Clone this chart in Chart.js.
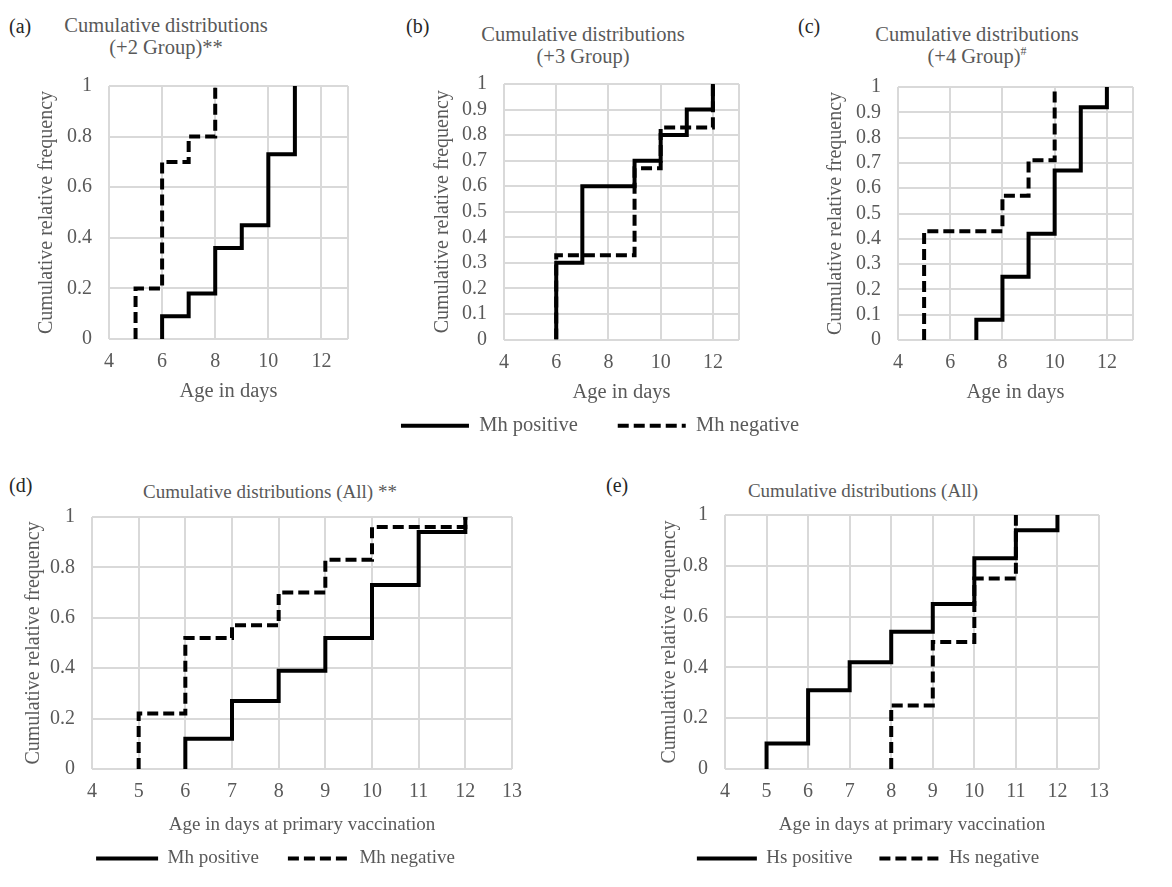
<!DOCTYPE html>
<html lang="en">
<head>
    <meta charset="UTF-8">
    <title>Cumulative distributions</title>
    <script src="https://cdn.jsdelivr.net/npm/chart.js"></script>
    <style>
        body { margin: 0; background: #fff; }
        #page { position: relative; width: 1172px; height: 887px; overflow: hidden; font-family: 'Liberation Serif', 'Times New Roman', serif; }
        canvas { position: absolute; }
        .lbl { position: absolute; font-size: 20px; color: #262626; line-height: 22px; }
        .ttl { position: absolute; width: 400px; text-align: center; font-size: 20.5px; color: #595959; line-height: 22px; }
        .ttl.low { font-size: 19px; }
        .ttl sup { font-size: 12px; line-height: 0; }
    </style>
</head>
<body>
<div id="page">
    <div class="lbl" style="left:9px; top:15px;">(a)</div>
    <div class="ttl" style="left:-34px; top:14px;">Cumulative distributions<br>(+2 Group)**</div>
    <div class="lbl" style="left:406px; top:15px;">(b)</div>
    <div class="ttl" style="left:383px; top:23px;">Cumulative distributions<br>(+3 Group)</div>
    <div class="lbl" style="left:798px; top:15px;">(c)</div>
    <div class="ttl" style="left:777px; top:23px;">Cumulative distributions<br>(+4 Group)<sup>#</sup></div>
    <div class="lbl" style="left:9px; top:474px;">(d)</div>
    <div class="ttl low" style="left:70px; top:481px;">Cumulative distributions (All) **</div>
    <div class="lbl" style="left:606px; top:474px;">(e)</div>
    <div class="ttl low" style="left:663px; top:480px;">Cumulative distributions (All)</div>

    <canvas id="chartA"></canvas>
    <canvas id="chartB"></canvas>
    <canvas id="chartC"></canvas>
    <canvas id="chartD"></canvas>
    <canvas id="chartE"></canvas>
</div>

<script>
    // (a) +2 Group
    const agesPosA = [6, 7, 8, 9, 10, 11];
    const cumPosA = [0.09, 0.18, 0.36, 0.45, 0.73, 1];
    const agesNegA = [5, 6, 7, 8];
    const cumNegA = [0.2, 0.7, 0.8, 1];

    // (b) +3 Group
    const agesPosB = [6, 7, 9, 10, 11, 12];
    const cumPosB = [0.3, 0.6, 0.7, 0.8, 0.9, 1];
    const agesNegB = [6, 9, 10, 12];
    const cumNegB = [0.33, 0.67, 0.83, 1];

    // (c) +4 Group
    const agesPosC = [7, 8, 9, 10, 11, 12];
    const cumPosC = [0.08, 0.25, 0.42, 0.67, 0.92, 1];
    const agesNegC = [5, 8, 9, 10];
    const cumNegC = [0.43, 0.57, 0.71, 1];

    // (d) All, Mh
    const agesPosD = [6, 7, 8, 9, 10, 11, 12];
    const cumPosD = [0.12, 0.27, 0.39, 0.52, 0.73, 0.94, 1];
    const agesNegD = [5, 6, 7, 8, 9, 10, 12];
    const cumNegD = [0.22, 0.52, 0.57, 0.70, 0.83, 0.96, 1];

    // (e) All, Hs
    const agesPosE = [5, 6, 7, 8, 9, 10, 11, 12];
    const cumPosE = [0.10, 0.31, 0.42, 0.54, 0.65, 0.83, 0.94, 1];
    const agesNegE = [8, 9, 10, 11];
    const cumNegE = [0.25, 0.5, 0.75, 1];

    // axis ticks
    const xTicksTop = [4, 6, 8, 10, 12];
    const xTicksBottom = [4, 5, 6, 7, 8, 9, 10, 11, 12, 13];
    const X_MIN = 4, X_MAX = 13;

    const GREY = '#595959';
    const GRID = '#d9d9d9';
    const FONT = "'Liberation Serif', 'Times New Roman', serif";

    // cumulative curve starts at 0 on the first age
    function steps(ages, cum) {
        return [{ x: ages[0], y: 0 }].concat(ages.map((a, i) => ({ x: a, y: cum[i] })));
    }

    // legend samples: take dash and width from the dataset line
    function lineLabels(chart) {
        return Chart.defaults.plugins.legend.labels.generateLabels(chart).map(item => {
            const ds = chart.data.datasets[item.datasetIndex];
            item.lineDash = ds.borderDash || [];
            item.lineWidth = ds.borderWidth;
            item.strokeStyle = ds.borderColor;
            item.fillStyle = ds.borderColor;
            return item;
        });
    }

    function makeChart(id, box, cfg) {
        const cv = document.getElementById(id);
        cv.style.left = box.left + 'px';
        cv.style.top = box.top + 'px';
        cv.style.width = box.width + 'px';
        cv.style.height = box.height + 'px';
        cv.width = box.width;
        cv.height = box.height;

        const scales = {
            x: {
                type: 'linear',
                min: X_MIN,
                max: X_MAX,
                ticks: {
                    stepSize: 1,
                    autoSkip: false,
                    maxRotation: 0,
                    padding: 11,
                    color: GREY,
                    font: { family: FONT, size: 20 },
                    callback: v => cfg.xTicks.includes(v) ? v : ''
                },
                grid: {
                    drawTicks: false,
                    lineWidth: 2,
                    color: c => (cfg.xTicks.includes(c.tick.value) || c.tick.value === X_MAX) ? GRID : 'rgba(0,0,0,0)'
                },
                border: { display: false },
                title: {
                    display: true,
                    text: cfg.xTitle,
                    color: GREY,
                    font: { family: FONT, size: cfg.textSize },
                    padding: { top: 0, bottom: cfg.xTitlePad }
                },
                afterFit: s => { s.height = cfg.xHeight; }
            },
            y: {
                min: 0,
                max: 1,
                ticks: {
                    stepSize: cfg.yStep,
                    autoSkip: false,
                    padding: 17,
                    color: GREY,
                    font: { family: FONT, size: 20, lineHeight: 1 },
                    callback: v => Math.round(v * 10) / 10
                },
                grid: { drawTicks: false, lineWidth: 2, color: GRID },
                border: { display: false },
                title: {
                    display: true,
                    text: 'Cumulative relative frequency',
                    color: GREY,
                    font: { family: FONT, size: 20 },
                    padding: { top: cfg.yTitlePad, bottom: 0 }
                },
                afterFit: s => { s.width = cfg.yWidth; }
            }
        };
        if (cfg.rightWidth) {
            scales.r = {
                position: 'right',
                display: true,
                grid: { display: false },
                border: { display: false },
                ticks: { display: false },
                afterFit: s => { s.width = cfg.rightWidth; }
            };
        }

        return new Chart(cv, {
            type: 'line',
            data: {
                datasets: [{
                    label: cfg.names[0],
                    data: steps(cfg.pos[0], cfg.pos[1]),
                    borderColor: '#000',
                    backgroundColor: '#000',
                    borderWidth: 4,
                    stepped: true,
                    pointRadius: 0,
                    fill: false
                }, {
                    label: cfg.names[1],
                    data: steps(cfg.neg[0], cfg.neg[1]),
                    borderColor: '#000',
                    backgroundColor: '#000',
                    borderWidth: 4,
                    borderDash: [11, 5],
                    stepped: true,
                    pointRadius: 0,
                    fill: false
                }]
            },
            options: {
                responsive: false,
                animation: false,
                devicePixelRatio: 1,
                layout: { padding: { top: 30, left: 0, right: cfg.padRight || 0, bottom: 0 } },
                scales: scales,
                plugins: {
                    tooltip: { enabled: false },
                    title: { display: false },
                    legend: {
                        display: !!cfg.legendPad,
                        position: 'bottom',
                        labels: {
                            usePointStyle: true,
                            pointStyle: 'line',
                            pointStyleWidth: cfg.legendLine || 64,
                            padding: cfg.legendPad || 10,
                            color: GREY,
                            font: { family: FONT, size: cfg.textSize },
                            generateLabels: lineLabels
                        }
                    }
                }
            }
        });
    }

    const mhNames = ['Mh positive', 'Mh negative'];

    makeChart('chartA', { left: 0, top: 56, width: 363, height: 353 }, {
        pos: [agesPosA, cumPosA], neg: [agesNegA, cumNegA], names: mhNames,
        xTicks: xTicksTop, yStep: 0.2, xTitle: 'Age in days', textSize: 20.5,
        yWidth: 109, yTitlePad: 35, xHeight: 70, xTitlePad: 5, padRight: 15
    });

    makeChart('chartB', { left: 350, top: 54, width: 500, height: 392 }, {
        pos: [agesPosB, cumPosB], neg: [agesNegB, cumNegB], names: mhNames,
        xTicks: xTicksTop, yStep: 0.1, xTitle: 'Age in days', textSize: 20.5,
        yWidth: 154, yTitlePad: 81, xHeight: 36, xTitlePad: -29, rightWidth: 111,
        legendPad: 40, legendLine: 68
    });

    makeChart('chartC', { left: 800, top: 57, width: 348, height: 353 }, {
        pos: [agesPosC, cumPosC], neg: [agesNegC, cumNegC], names: mhNames,
        xTicks: xTicksTop, yStep: 0.1, xTitle: 'Age in days', textSize: 20.5,
        yWidth: 98, yTitlePad: 24, xHeight: 70, xTitlePad: 5, padRight: 15
    });

    makeChart('chartD', { left: 0, top: 487, width: 551, height: 391 }, {
        pos: [agesPosD, cumPosD], neg: [agesNegD, cumNegD], names: mhNames,
        xTicks: xTicksBottom, yStep: 0.2, xTitle: 'Age in days at primary vaccination', textSize: 19,
        yWidth: 92, yTitlePad: 22, xHeight: 51, xTitlePad: -16, rightWidth: 39,
        legendPad: 29, legendLine: 62
    });

    makeChart('chartE', { left: 612, top: 485, width: 512, height: 393 }, {
        pos: [agesPosE, cumPosE], neg: [agesNegE, cumNegE], names: ['Hs positive', 'Hs negative'],
        xTicks: xTicksBottom, yStep: 0.2, xTitle: 'Age in days at primary vaccination', textSize: 19,
        yWidth: 113, yTitlePad: 46, xHeight: 53, xTitlePad: -14, rightWidth: 25,
        legendPad: 27, legendLine: 60
    });
</script>
</body>
</html>
